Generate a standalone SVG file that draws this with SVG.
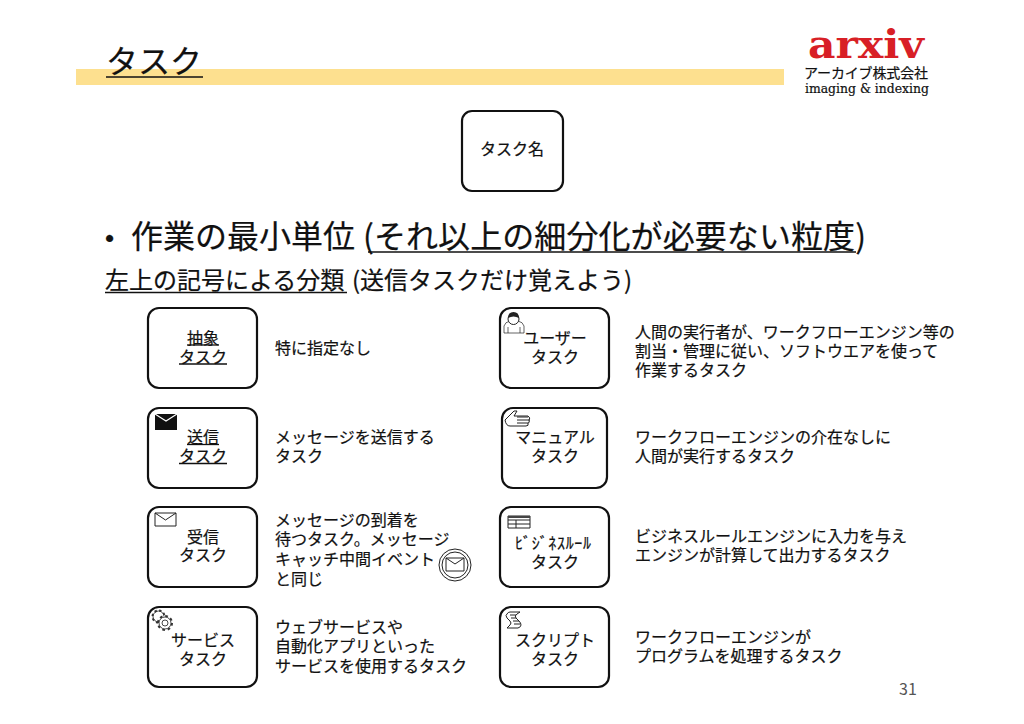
<svg xmlns="http://www.w3.org/2000/svg" width="1024" height="724" viewBox="0 0 1024 724">
<style>
text{font-family:"Noto Sans CJK JP","Noto Sans",sans-serif;fill:#111;stroke:#111;stroke-width:.22px}
.t{font-size:16px}
.c{font-size:16px;text-anchor:middle}
.box{fill:#fff;stroke:#111;stroke-width:2.2}
.ul{stroke:#111;stroke-width:1.3}
.ic{fill:none;stroke:#222;stroke-width:1}
</style>
<rect width="1024" height="724" fill="#fff"/>
<rect x="76" y="69" width="708" height="16" fill="#fde08f"/>
<g id="title"><text x="106" y="73" font-size="32">タスク</text><line x1="106" y1="77" x2="203" y2="77" stroke="#111" stroke-width="1.5"/></g>
<g id="logo">
<text x="866" y="58" font-size="40" text-anchor="middle" style="font-family:'DejaVu Serif',serif;font-weight:bold;fill:#d81f26;stroke:none" textLength="116" lengthAdjust="spacingAndGlyphs">arxiv</text>
<text x="866" y="78" font-size="14" text-anchor="middle" textLength="124">アーカイブ株式会社</text>
<text x="867" y="93" font-size="13" text-anchor="middle" style="font-family:'DejaVu Serif',serif" textLength="124" lengthAdjust="spacingAndGlyphs">imaging &amp; indexing</text>
</g>
<g id="task-name"><rect class="box" x="462" y="111" width="101" height="80" rx="10"/><text class="c" x="512" y="155">タスク名</text></g>
<g id="bullets">
<text x="105" y="247" font-size="26" style="font-family:'Liberation Sans',sans-serif">•</text>
<text x="131" y="248" font-size="32">作業の最小単位</text>
<text x="363" y="248" font-size="32" textLength="503">(それ以上の細分化が必要ない粒度)</text>
<line x1="368" y1="252" x2="856" y2="252" stroke="#111" stroke-width="1.5"/>
<text x="105" y="289" font-size="24">左上の記号による分類</text>
<line x1="105" y1="292.500" x2="347" y2="292.500" stroke="#111" stroke-width="1.3"/>
<text x="352" y="289" font-size="24" textLength="280">(送信タスクだけ覚えよう)</text>
</g>
<g id="abstract"><rect class="box" x="148" y="308" width="109" height="80" rx="11"/><text class="c" x="203" y="344">抽象</text><text class="c" x="203" y="363">タスク</text><line class="ul" x1="187" y1="345" x2="219" y2="345"/><line class="ul" x1="179" y1="364" x2="227" y2="364"/><text class="t" x="275" y="354">特に指定なし</text></g>
<g id="send"><rect class="box" x="148" y="408" width="109" height="80" rx="11"/><path d="M155 414h22v16h-22z" fill="#111"/><path d="M155 414l11 7l11-7" fill="none" stroke="#fff" stroke-width="1.2"/><text class="c" x="203" y="443">送信</text><text class="c" x="203" y="462">タスク</text><line class="ul" x1="187" y1="444.500" x2="219" y2="444.500"/><line class="ul" x1="179" y1="463.500" x2="227" y2="463.500"/><text class="t" x="275" y="443">メッセージを送信する</text><text class="t" x="275" y="462">タスク</text></g>
<g id="receive"><rect class="box" x="148" y="507" width="109" height="80" rx="11"/><path class="ic" d="M155 513h21v13h-21zM155 513l10.500 7l10.500-7"/><text class="c" x="203" y="543">受信</text><text class="c" x="203" y="561">タスク</text>
<text class="t" x="275" y="526">メッセージの到着を</text><text class="t" x="275" y="545">待つタスク。メッセージ</text><text class="t" x="275" y="565">キャッチ中間イベント</text><text class="t" x="275" y="585">と同じ</text>
<circle class="ic" cx="455" cy="565" r="16"/><circle class="ic" cx="455" cy="565" r="13"/><path class="ic" d="M446 558h18v13h-18zM446 558l9 6l9-6"/></g>
<g id="service"><rect class="box" x="148" y="607" width="109" height="80" rx="11"/><circle cx="158.500" cy="616.500" r="5.500" fill="none" stroke="#333" stroke-width=".9"/><circle cx="158.500" cy="616.500" r="6" stroke-dasharray="2.300 2.400" stroke-width="2" fill="none" stroke="#333"/><circle cx="165" cy="623" r="7" fill="#fff" stroke="#333" stroke-width="2" stroke-dasharray="2.700 2.800"/><circle cx="165" cy="623" r="6" fill="#fff" stroke="#333" stroke-width=".9"/><circle cx="165" cy="623" r="3" fill="#fff" stroke="#333" stroke-width=".9"/><text class="c" x="203" y="646">サービス</text><text class="c" x="203" y="665">タスク</text>
<text class="t" x="275" y="633">ウェブサービスや</text><text class="t" x="275" y="652">自動化アプリといった</text><text class="t" x="275" y="672">サービスを使用するタスク</text></g>
<g id="user"><rect class="box" x="500" y="308" width="109" height="80" rx="11"/><path class="ic" stroke-opacity=".7" d="M504 333v-7q1-4 6-5h8q5 1 6 5v7zM508 333v-6M520 333v-6"/><circle cx="513.500" cy="319" r="5.500" fill="#fff" stroke="#222"/><path d="M508 318q0-6 5.500-6q5.500 0 5.500 6q-5.500-3-11 0z" fill="#222"/><text class="c" x="555" y="344">ユーザー</text><text class="c" x="555" y="363">タスク</text>
<text class="t" x="635" y="338">人間の実行者が、ワークフローエンジン等の</text><text class="t" x="635" y="357">割当・管理に従い、ソフトウエアを使って</text><text class="t" x="635" y="376">作業するタスク</text></g>
<g id="manual"><rect class="box" x="502" y="408" width="105" height="80" rx="11"/><path class="ic" d="M505 420l9-9h3l-3 5h14q3 2 1 4q1 3-1 3q1 3-2 3h-16q-4 0-5-6zM517 417h11M517 420h13M517 423h11" stroke-width="1.100"/><text class="c" x="555" y="443">マニュアル</text><text class="c" x="555" y="462">タスク</text>
<text class="t" x="635" y="443">ワークフローエンジンの介在なしに</text><text class="t" x="635" y="462">人間が実行するタスク</text></g>
<g id="business-rule"><rect class="box" x="500" y="507" width="109" height="80" rx="11"/><path class="ic" d="M508 516h22v12h-22zM508 520h22M508 524h22M516 520v8"/><path d="M508 516h22v2h-22z" fill="#444"/><text class="c" x="553" y="549" textLength="76" lengthAdjust="spacing">ﾋﾞｼﾞﾈｽﾙｰﾙ</text><text class="c" x="555" y="568">タスク</text>
<text class="t" x="635" y="542">ビジネスルールエンジンに入力を与え</text><text class="t" x="635" y="561">エンジンが計算して出力するタスク</text></g>
<g id="script"><rect class="box" x="500" y="607" width="109" height="80" rx="11"/><path class="ic" d="M510 612h10l-3 2q-3 2-1 4l3 3q2 2 2 4t-3 3h-11l3-3q2-2 0-4l-3-3q-2-3 0-4q1-2 3-2zM510 615h6M511 618h5M513 621h6M514 624h6" stroke-width="1.200"/><text class="c" x="555" y="646">スクリプト</text><text class="c" x="555" y="665">タスク</text>
<text class="t" x="635" y="643">ワークフローエンジンが</text><text class="t" x="635" y="662">プログラムを処理するタスク</text></g>
<text x="899" y="695" font-size="16" style="fill:#555;stroke:none">31</text>
</svg>
